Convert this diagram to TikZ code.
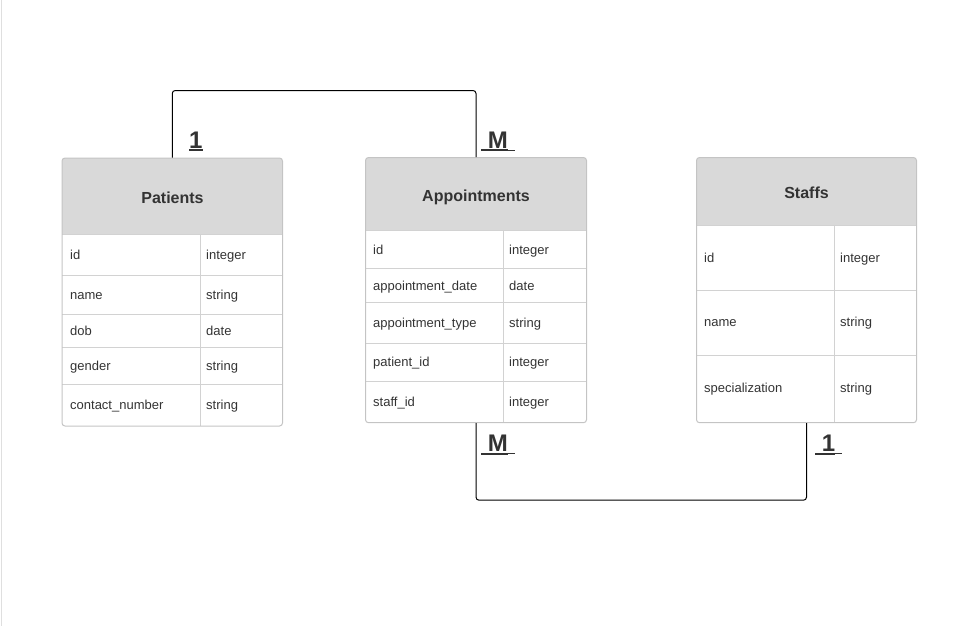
\documentclass[tikz,border=0pt]{standalone}
\usepackage{fontspec}
\setmainfont{Liberation Sans}
\usepackage{tikz}

\definecolor{txt}{HTML}{333333}
\definecolor{hdr}{HTML}{D9D9D9}
\definecolor{rim}{HTML}{C4C4C4}
\definecolor{sep}{HTML}{D2D2D2}

% underlined cardinality mark
\newcommand{\crd}[1]{\setbox0\hbox{#1}\rlap{\rule[-3pt]{\wd0}{2pt}}\box0}
\newcommand{\crdtail}{\rule[-2pt]{7pt}{0.8pt}}

\begin{document}
\begin{tikzpicture}[x=1pt,y=-1pt]
      \tikzstyle{every node}=[inner sep=0pt,text=txt]
      \tikzstyle{tbl}=[draw=rim,line width=1pt,rounded corners=3pt,shape=rectangle]
      \tikzstyle{title}=[anchor=base,font=\fontsize{16}{19}\selectfont\bfseries]
      \tikzstyle{cell}=[anchor=base west,font=\fontsize{13}{16}\selectfont]
      \tikzstyle{card}=[anchor=base west,font=\fontsize{24}{28}\selectfont\bfseries]
      \tikzstyle{link}=[draw=black,line width=1pt,rounded corners=3pt]

      \useasboundingbox (0,0) rectangle (955,626);
      \draw[gray!25] (0.8,0) -- (0.8,626);

      % Patients
      \begin{scope}
        \clip[rounded corners=3pt] (62,158) rectangle (282.5,426);
        \fill[hdr] (62,158) rectangle (282.5,234);
      \end{scope}
      \draw[sep] (62,234) -- (282.5,234);
      \draw[sep] (62,275) -- (282.5,275);
      \draw[sep] (62,314) -- (282.5,314);
      \draw[sep] (62,347) -- (282.5,347);
      \draw[sep] (62,384) -- (282.5,384);
      \draw[sep] (200,234) -- (200,426);
      \node[tbl,minimum width=220.5pt,minimum height=268pt] (patients) at (172.25,292) {};

      \node[title] (ptitle) at (172.5,203.3) {Patients};
      \node[cell] (pid) at (70,259.2) {id};
      \node[cell] (pidt) at (206,259.2) {integer};
      \node[cell] (pname) at (70,299.2) {name};
      \node[cell] (pnamet) at (206,299.2) {string};
      \node[cell] (pdob) at (70,335.2) {dob};
      \node[cell] (pdobt) at (206,335.2) {date};
      \node[cell] (pgender) at (70,370.2) {gender};
      \node[cell] (pgendert) at (206,370.2) {string};
      \node[cell] (pcontact) at (70,409.5) {contact\_number};
      \node[cell] (pcontactt) at (206,409.5) {string};

      % Appointments
      \begin{scope}
        \clip[rounded corners=3pt] (365.5,157.5) rectangle (586.5,422.7);
        \fill[hdr] (365.5,157.5) rectangle (586.5,230.3);
      \end{scope}
      \draw[sep] (365.5,230.3) -- (586.5,230.3);
      \draw[sep] (365.5,267.7) -- (586.5,267.7);
      \draw[sep] (365.5,302.3) -- (586.5,302.3);
      \draw[sep] (365.5,343) -- (586.5,343);
      \draw[sep] (365.5,381) -- (586.5,381);
      \draw[sep] (502.7,230.3) -- (502.7,422.7);
      \node[tbl,minimum width=221pt,minimum height=265.2pt] (appointments) at (476,290.1) {};

      \node[title] (atitle) at (476,201) {Appointments};
      \node[cell] (aid) at (373,254) {id};
      \node[cell] (aidt) at (509,254) {integer};
      \node[cell] (adate) at (373,290) {appointment\_date};
      \node[cell] (adatet) at (509,290) {date};
      \node[cell] (atype) at (373,327.5) {appointment\_type};
      \node[cell] (atypet) at (509,327.5) {string};
      \node[cell] (apatient) at (373,366.7) {patient\_id};
      \node[cell] (apatientt) at (509,366.7) {integer};
      \node[cell] (astaff) at (373,406.5) {staff\_id};
      \node[cell] (astafft) at (509,406.5) {integer};

      % Staffs
      \begin{scope}
        \clip[rounded corners=3pt] (696.5,157.5) rectangle (916.5,422.7);
        \fill[hdr] (696.5,157.5) rectangle (916.5,224.7);
      \end{scope}
      \draw[sep] (696.5,224.7) -- (916.5,224.7);
      \draw[sep] (696.5,289.7) -- (916.5,289.7);
      \draw[sep] (696.5,355.3) -- (916.5,355.3);
      \draw[sep] (834,224.7) -- (834,422.7);
      \node[tbl,minimum width=220pt,minimum height=265.2pt] (staffs) at (806.5,290.1) {};

      \node[title] (stitle) at (806.5,198.3) {Staffs};
      \node[cell] (sid) at (704,262.3) {id};
      \node[cell] (sidt) at (840,262.3) {integer};
      \node[cell] (sname) at (704,326.7) {name};
      \node[cell] (snamet) at (840,326.7) {string};
      \node[cell] (sspec) at (704,392.3) {specialization};
      \node[cell] (sspect) at (840,392.3) {string};

      % relations
      \draw[link] (patients.north) -- ++(0,-67) -| (appointments.north);
      \draw[link] (appointments.south) -- ++(0,77) -| (staffs.south);

      \node[card] (pone) at (189,148.3) {\crd{1}};
      \node[card] (amany) at (481,148.3) {\crd{\ M}\crdtail};
      \node[card] (amany2) at (481,451.7) {\crd{\ M}\crdtail};
      \node[card] (sone) at (815,451.7) {\crd{\ 1}\crdtail};
    \end{tikzpicture}
\end{document}
